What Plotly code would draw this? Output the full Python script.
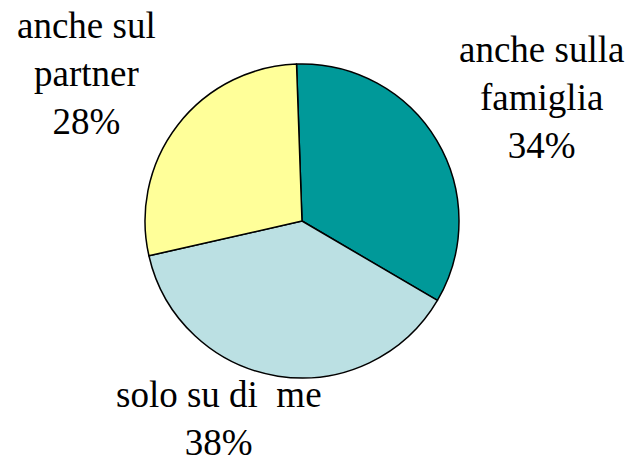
import plotly.graph_objects as go

labels = ["anche sulla famiglia", "solo su di  me", "anche sul partner"]
label_lines = [["anche sulla", "famiglia"], ["solo su di  me"], ["anche sul", "partner"]]
values = [34, 38, 28]
colors = ["#009999", "#BBE0E3", "#FFFF99"]

W, H = 632, 465
cx, cy, r = 302, 221, 157

fig = go.Figure(go.Pie(
    labels=labels,
    values=values,
    sort=False,
    direction="clockwise",
    rotation=-2,
    marker=dict(colors=colors, line=dict(color="black", width=1.5)),
    textinfo="none",
    hoverinfo="label+percent",
    showlegend=False,
    domain=dict(x=[(cx - r) / W, (cx + r) / W], y=[(H - cy - r) / H, (H - cy + r) / H]),
))

# label block centres (paper fractions)
label_pos = [(541 / W, (H - 97) / H), (219 / W, (H - 418) / H), (86 / W, (H - 73) / H)]
total = sum(values)
for lines, v, (px, py) in zip(label_lines, values, label_pos):
    txt = "<br>".join(l.replace("  ", "\u00a0 ") for l in lines) + f"<br>{round(100 * v / total)}%"
    fig.add_annotation(
        x=px, y=py, xref="paper", yref="paper",
        text=txt, showarrow=False, xanchor="center", yanchor="middle", align="center",
        font=dict(family="Liberation Serif", size=37, color="black"),
    )

fig.update_layout(
    width=W, height=H,
    margin=dict(l=0, r=0, t=0, b=0),
    paper_bgcolor="white", plot_bgcolor="white",
)
fig.write_html("out.html", config={"displayModeBar": False},
               post_script="document.body.style.margin='0px';")
